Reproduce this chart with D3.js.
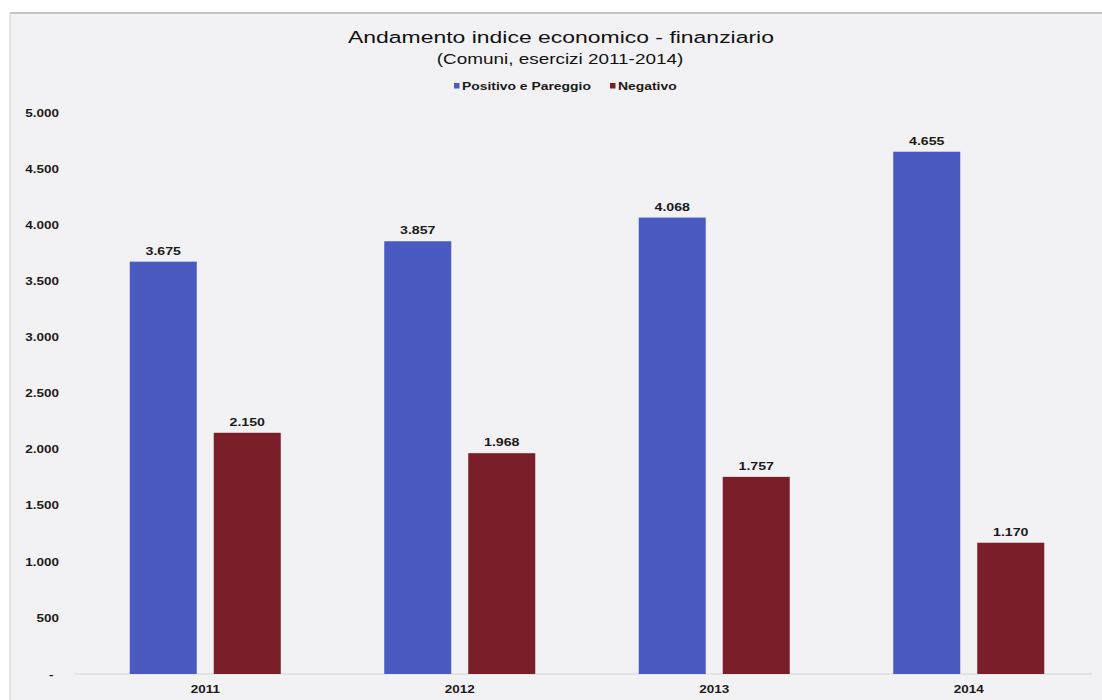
<!DOCTYPE html>
<html><head><meta charset="utf-8">
<script src="https://cdn.jsdelivr.net/npm/d3@7/dist/d3.min.js"></script>
<style>
html,body{margin:0;padding:0;background:#ffffff;}
svg{display:block;font-family:"Liberation Sans",Arial,sans-serif;}
</style></head>
<body>
<svg id="chart" width="1102" height="700"></svg>
<script>
const categories = ["2011","2012","2013","2014"];
const seriesNames = ["Positivo e Pareggio","Negativo"];
const positivo = [3675,3857,4068,4655];
const negativo = [2150,1968,1757,1170];
const valueLabels = [["3.675","3.857","4.068","4.655"],["2.150","1.968","1.757","1.170"]];
const tickValues = [0,500,1000,1500,2000,2500,3000,3500,4000,4500,5000];
const tickLabels = ["-","500","1.000","1.500","2.000","2.500","3.000","3.500","4.000","4.500","5.000"];
const colors = ["#4a5ac0","#7a1e2a"];

const SX = 1.35; // horizontal stretch of the original text
const svg = d3.select("#chart");
svg.append("rect").attr("x",10).attr("y",13).attr("width",1092).attr("height",687).attr("fill","#f2f2f4");
svg.append("line").attr("x1",10).attr("x2",1102).attr("y1",13).attr("y2",13).attr("stroke","#c4c4c8").attr("stroke-width",2);
svg.append("line").attr("x1",10).attr("x2",10).attr("y1",13).attr("y2",700).attr("stroke","#d0d0d4").attr("stroke-width",1);

const x0 = d3.scaleBand().domain(categories).range([78,1096]).paddingInner(0).paddingOuter(0);
const y = d3.scaleLinear().domain([0,5000]).range([674,113]);
const barW = 67, gap = 17;
const data = [positivo, negativo];

function stext(g, x, yy, str, size, weight, anchor){
  return g.append("text")
    .attr("transform",`translate(${x},${yy}) scale(${SX},1)`)
    .attr("text-anchor",anchor||"middle")
    .attr("font-size",size).attr("font-weight",weight||"normal")
    .attr("fill","#1a1a1a").text(str);
}

svg.append("line").attr("x1",75).attr("x2",1092).attr("y1",y(0)).attr("y2",y(0)).attr("stroke","#d6d6da").attr("stroke-width",1);

const yAxis = d3.axisLeft(y).tickValues(tickValues).tickSize(0).tickFormat((d,i)=>tickLabels[i]);
const ga = svg.append("g").attr("transform","translate(63,0)").call(yAxis);
ga.select(".domain").remove();
ga.selectAll("text").attr("font-size",10).attr("font-weight","bold").attr("fill","#1a1a1a")
  .attr("font-family","'Liberation Sans',Arial,sans-serif")
  .attr("transform",`scale(${SX},1)`)
  .attr("dx",(d)=> d===0 ? -4 : 0);

const xAxis = d3.axisBottom(x0).tickSize(0);
const gx = svg.append("g").attr("transform",`translate(0,${y(0)+9})`).call(xAxis);
gx.select(".domain").remove();
gx.selectAll("text").attr("font-size",10).attr("font-weight","bold").attr("fill","#1a1a1a")
  .attr("font-family","'Liberation Sans',Arial,sans-serif")
  .attr("transform",`scale(${SX},1)`);

data.forEach((vals,s)=>{
  const g = svg.append("g");
  g.selectAll("rect").data(vals).join("rect")
    .attr("x",(d,i)=> x0(categories[i]) + x0.bandwidth()/2 + (s===0 ? -(gap/2+barW) : gap/2))
    .attr("y",d=>y(d))
    .attr("width",barW)
    .attr("height",d=>y(0)-y(d))
    .attr("fill",colors[s]);
  vals.forEach((d,i)=>{
    const cx = x0(categories[i]) + x0.bandwidth()/2 + (s===0 ? -(gap/2+barW/2) : gap/2+barW/2);
    stext(g, cx, y(d)-7, valueLabels[s][i], 10.5, "bold");
  });
});

stext(svg, 561, 43, "Andamento indice economico - finanziario", 17, "normal").attr("fill","#111");
stext(svg, 560, 64, "(Comuni, esercizi 2011-2014)", 14, "normal").attr("fill","#111");

const leg = svg.append("g");
const legX = [454, 610];
seriesNames.forEach((n,i)=>{
  leg.append("rect").attr("x",legX[i]).attr("y",83).attr("width",5.5).attr("height",5.5).attr("fill",colors[i]);
  stext(leg, legX[i]+8, 89.5, n, 10.3, "bold", "start");
});
</script>
</body></html>
